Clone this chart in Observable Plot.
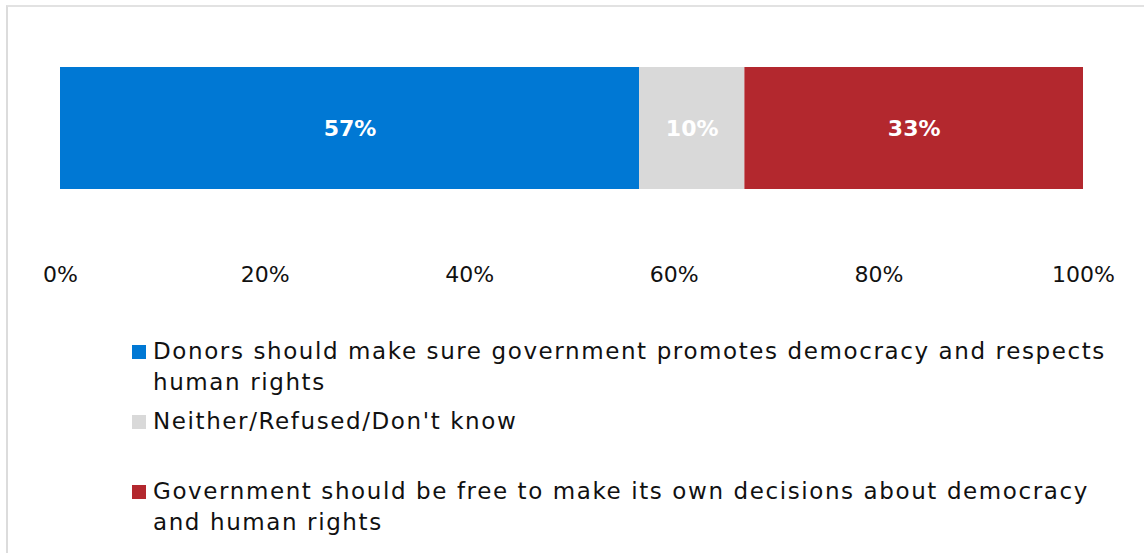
<!DOCTYPE html>
<html>
<head>
<meta charset="utf-8">
<script src="https://cdn.jsdelivr.net/npm/d3@7"></script>
<script src="https://cdn.jsdelivr.net/npm/@observablehq/plot@0.6"></script>
<style>
  html, body { margin: 0; padding: 0; background: #fff; }
  body { width: 1144px; height: 553px; position: relative; overflow: hidden; font-family: "DejaVu Sans", sans-serif; }
  #frame { position: absolute; left: 6px; top: 5px; right: -4px; bottom: -4px; border-left: 2px solid #dcdcdc; border-top: 2px solid #e2e2e2; }
  #chart { position: absolute; left: 0; top: 0; }
  .item { position: absolute; left: 153px; width: 975px; font-size: 23px; line-height: 31px; letter-spacing: 1.6px; color: #111; }
  .swatch { position: absolute; width: 14px; height: 14px; left: 132px; }
</style>
</head>
<body>
<div id="frame"></div>
<div id="chart"></div>
<div id="legend"></div>
<script>
const categories = [
  "Donors should make sure government promotes democracy and respects human rights",
  "Neither/Refused/Don't know",
  "Government should be free to make its own decisions about democracy and human rights"
];
const values = [56.6, 10.3, 33.1];
const colors = ["#0078d4", "#d9d9d9", "#b3282e"];
const tickValues = [0, 20, 40, 60, 80, 100];
const rowName = "All";

const data = categories.map((c, i) => ({category: c, value: values[i], row: rowName}));
const pct = d => d + "%";

const chart = Plot.plot({
  width: 1144,
  height: 300,
  marginLeft: 60,
  marginRight: 61,
  marginTop: 67,
  marginBottom: 111,
  style: {fontFamily: "DejaVu Sans", fontSize: "22px", color: "#111", background: "transparent"},
  x: {domain: [0, 100]},
  y: {domain: [rowName], axis: null, padding: 0},
  color: {domain: categories, range: colors},
  marks: [
    Plot.barX(data, Plot.stackX({x: "value", y: "row", fill: "category", order: null})),
    Plot.text(data, Plot.stackX({x: "value", y: "row", order: null, text: d => Math.round(d.value) + "%", fill: "white", fontWeight: "bold", fontSize: 22})),
    Plot.axisX({ticks: tickValues, tickFormat: pct, tickSize: 0, tickPadding: 77, fontSize: 22, fill: "#111", label: null})
  ]
});
document.getElementById("chart").appendChild(chart);

const legend = document.getElementById("legend");
categories.forEach((c, i) => {
  const top = 336 + 70 * i;
  const sw = document.createElement("div");
  sw.className = "swatch";
  sw.style.top = (top + 9) + "px";
  sw.style.background = colors[i];
  legend.appendChild(sw);
  const t = document.createElement("div");
  t.className = "item";
  t.style.top = top + "px";
  t.textContent = c;
  legend.appendChild(t);
});
</script>
</body>
</html>
